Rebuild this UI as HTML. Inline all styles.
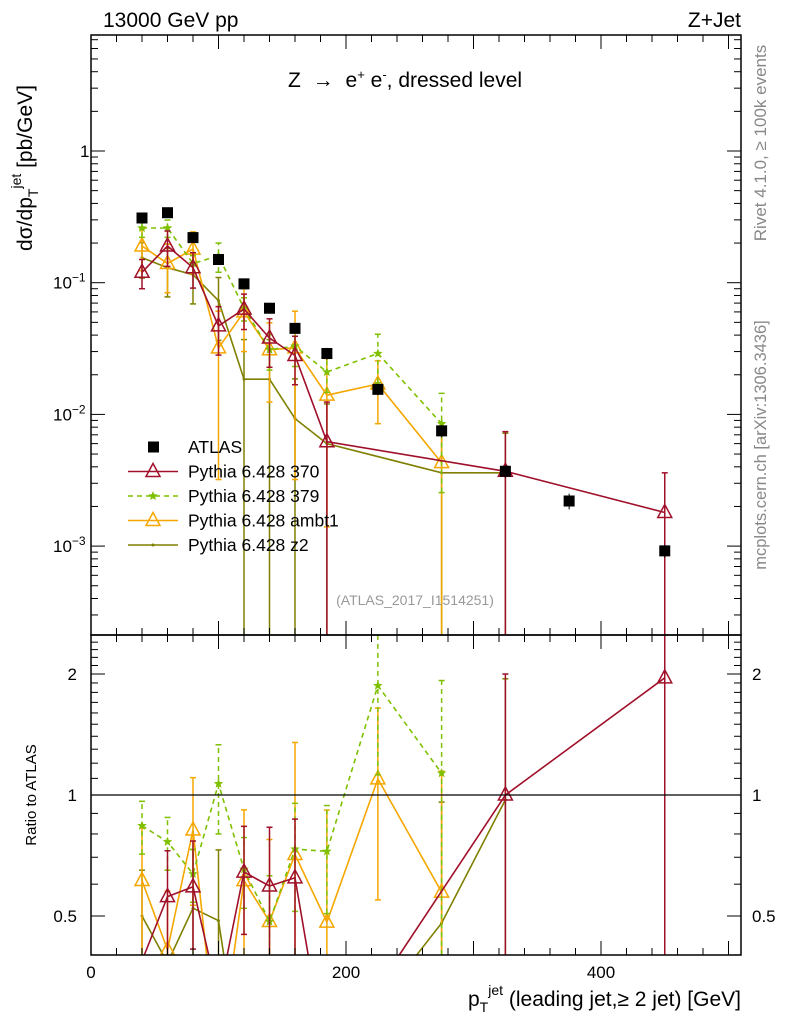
<!DOCTYPE html>
<html><head><meta charset="utf-8"><style>
html,body{margin:0;background:#fff;overflow:hidden;width:786px;height:1024px;}
svg{font-family:"Liberation Sans",sans-serif;display:block;}
</style></head><body>
<svg id="c" width="786" height="1024" viewBox="0 0 786 1024"></svg>
<script>
const xs=[40,60,80,100,120,140,160,185,225,275,325,375,450];
const atlas=[0.31,0.34,0.22,0.15,0.098,0.064,0.045,0.029,0.0155,0.0075,0.0037,0.0022,0.00092];
const atlasErr=[0.03,0.03,0.02,0.012,0.008,0.005,0.004,0.003,0.0015,0.0008,0.0004,0.0003,0.0001];
const s370=[0.12,0.19,0.13,0.047,0.063,0.038,0.028,0.0062,null,null,0.0037,null,0.0018];
const e370=[0.25,0.3,0.3,0.4,0.3,0.4,0.4,1.0,0,0,1.0,0,1.0];
const s379=[0.26,0.26,0.14,0.16,0.064,0.031,0.033,0.021,0.029,0.0085,null,null,null];
const e379=[0.15,0.15,0.15,0.25,0.2,0.3,0.3,0.3,0.4,0.7,0,0,0];
const sAmbt1=[0.19,0.14,0.18,0.032,0.06,0.031,0.032,0.014,0.017,0.0043,null,null,null];
const eAmbt1=[0.35,0.4,0.35,0.9,0.5,0.6,0.9,0.9,0.5,1.0,0,0,0];
const sZ2=[0.155,0.13,0.115,0.073,0.0185,0.0185,0.0093,0.006,null,0.0036,0.0036,null,null];
const eZ2=[0.3,0.4,0.4,0.5,1.0,1.0,1.0,1.0,0,1.0,1.0,0,0];
const xTicks=[0,200,400];
const ratioTicks=[0.5,1,2];

const svg=document.getElementById('c');
const NS='http://www.w3.org/2000/svg';
function mk(t,a,p){const e=document.createElementNS(NS,t);for(const k in a)e.setAttribute(k,a[k]);(p||svg).appendChild(e);return e;}
const L=91,R=741,T=35,MB=635,RB=955;
const X=v=>L+v*1.275;
const Y=v=>151-131.7*Math.log10(v);
const YR=v=>795-121*Math.log2(v);
const defs=mk('defs',{});
const c1=mk('clipPath',{id:'cm'},defs);mk('rect',{x:L,y:T,width:R-L,height:MB-T},c1);
const c2=mk('clipPath',{id:'cr'},defs);mk('rect',{x:L,y:MB,width:R-L,height:RB-MB},c2);
const gm=mk('g',{'clip-path':'url(#cm)'});
const gr=mk('g',{'clip-path':'url(#cr)'});
let f=mk('rect',{x:L,y:T,width:R-L,height:MB-T,fill:'none',stroke:'#000','stroke-width':1.5});

f=mk('rect',{x:L,y:MB,width:R-L,height:RB-MB,fill:'none',stroke:'#000','stroke-width':1.5});

for(let d=-4;d<=0;d++){for(let m=1;m<10;m++){const v=m*Math.pow(10,d);const y=Y(v);if(y<T||y>MB)continue;const len=m==1?14:7;
mk('line',{x1:L,x2:L+len,y1:y,y2:y,stroke:'#000'});mk('line',{x1:R,x2:R-len,y1:y,y2:y,stroke:'#000'});}}
const ylabs=[[1,'1'],[0.1,'10<tspan dy="-7" font-size="12">−1</tspan>'],[0.01,'10<tspan dy="-7" font-size="12">−2</tspan>'],[0.001,'10<tspan dy="-7" font-size="12">−3</tspan>']];
ylabs.forEach(([v,s])=>{const t=mk('text',{x:v==1?80:53,y:Y(v)+6,'font-size':17});t.innerHTML=s;});
for(let v=0.4;v<=2.5;v+=0.1){const y=YR(v);const maj=Math.abs(v-0.5)<1e-6||Math.abs(v-1)<1e-6||Math.abs(v-2)<1e-6;const len=maj?14:7;
mk('line',{x1:L,x2:L+len,y1:y,y2:y,stroke:'#000'});mk('line',{x1:R,x2:R-len,y1:y,y2:y,stroke:'#000'});}
ratioTicks.forEach(v=>{let t=mk('text',{x:77,y:YR(v)+6,'font-size':17,'text-anchor':'end'});t.textContent=v;
t=mk('text',{x:752,y:YR(v)+6,'font-size':17});t.textContent=v;});
for(let v=0;v<=500;v+=20){const x=X(v);const maj=v%100==0;const len=maj?14:7;
[[MB,-1],[RB,-1],[T,1],[MB,1]].forEach(([y0,s])=>mk('line',{x1:x,x2:x,y1:y0,y2:y0+s*len,stroke:'#000'}));}
xTicks.forEach(v=>{const t=mk('text',{x:X(v),y:978,'font-size':17,'text-anchor':'middle'});t.textContent=v;});
mk('line',{x1:L,x2:R,y1:YR(1),y2:YR(1),stroke:'#000','stroke-width':1.2});
function tri(g,x,y,col){mk('path',{d:`M${x} ${y-8}L${x+7} ${y+5}L${x-7} ${y+5}Z`,fill:'none',stroke:col,'stroke-width':1.5},g);}
function star(g,x,y,col){let d='';for(let i=0;i<10;i++){const r=i%2?2.2:5;const a=-Math.PI/2+i*Math.PI/5;d+=(i?'L':'M')+(x+r*Math.cos(a)).toFixed(1)+' '+(y+r*Math.sin(a)).toFixed(1);}mk('path',{d:d+'Z',fill:col},g);}
// clip a polyline to y<=bot; returns path d
function clipPath(pts,bot){let d='';let pen=false;
  for(let i=0;i<pts.length-1;i++){const [x1,y1]=pts[i],[x2,y2]=pts[i+1];
    if(y1>bot&&y2>bot){pen=false;continue;}
    let ax=x1,ay=y1,bx=x2,by=y2;
    if(y1>bot){const t=(bot-y1)/(y2-y1);ax=x1+t*(x2-x1);ay=bot;pen=false;}
    if(y2>bot){const t=(bot-y1)/(y2-y1);bx=x1+t*(x2-x1);by=bot;}
    if(!pen){d+=`M${ax.toFixed(1)} ${ay.toFixed(1)}`;}
    d+=`L${bx.toFixed(1)} ${by.toFixed(1)}`;pen=y2<=bot;}
  return d;}
function draw(vals,errs,col,dash,marker,name){
  [[gm,Y,v=>v,MB,T],[gr,YR,(v,i)=>v/atlas[i],RB,MB]].forEach(([g0,Yf,tf,bot,top],k)=>{
    const g=mk('g',{},g0);
    
    
    let pts=[];
    vals.forEach((v,i)=>{if(v==null)return;const val=tf(v,i);const x=X(xs[i]);const y=Yf(val);pts.push([x,y]);
      if(y>bot)return;
      const lo=val*(1-errs[i]),hi=val*(1+errs[i]);const ylo=lo>0?Math.min(Yf(lo),bot):bot,yhi=Math.max(Yf(hi),top);
      mk('line',{x1:x,x2:x,y1:ylo,y2:yhi,stroke:col,'stroke-width':1.5,'stroke-dasharray':dash},g);
      mk('line',{x1:x-3,x2:x+3,y1:yhi,y2:yhi,stroke:col,'stroke-width':1.5},g);
      if(lo>0&&Yf(lo)<bot)mk('line',{x1:x-3,x2:x+3,y1:ylo,y2:ylo,stroke:col,'stroke-width':1.5},g);});
    mk('path',{d:clipPath(pts,bot),fill:'none',stroke:col,'stroke-width':1.6,'stroke-dasharray':dash},g);
    vals.forEach((v,i)=>{if(v==null)return;const x=X(xs[i]),y=Yf(tf(v,i));if(y>bot)return;
      if(marker=='tri')tri(g,x,y,col);else if(marker=='star')star(g,x,y,col);else mk('circle',{cx:x,cy:y,r:1.5,fill:col},g);});
  });
}
draw(sZ2,eZ2,'#808000','','dot','pythia-z2');
draw(sAmbt1,eAmbt1,'#f5a700','','tri','pythia-ambt1');
draw(s379,e379,'#7fc000','5,4','star','pythia-379');
draw(s370,e370,'#a0102a','','tri','pythia-370');
const ga=mk('g',{},gm);
xs.forEach((x0,i)=>{const x=X(x0),y=Y(atlas[i]);mk('rect',{x:x-5.5,y:y-5.5,width:11,height:11,fill:'#000'},ga);
 mk('line',{x1:x,x2:x,y1:Y(atlas[i]-atlasErr[i]),y2:Y(atlas[i]+atlasErr[i]),stroke:'#000'},ga);});
const lg=mk('g',{});
const leg=[['ATLAS','#000','sq',''],['Pythia 6.428 370','#a0102a','tri',''],['Pythia 6.428 379','#7fc000','star','5,4'],['Pythia 6.428 ambt1','#f5a700','tri',''],['Pythia 6.428 z2','#808000','dot','']];
leg.forEach(([s,c,m,d],i)=>{const y=447+i*24.5;const e=mk('g',{},lg);
 if(m=='sq')mk('rect',{x:148,y:y-5.5,width:11,height:11,fill:'#000'},e);
 else{mk('line',{x1:128,x2:178,y1:y,y2:y,stroke:c,'stroke-width':1.6,'stroke-dasharray':d},e);
  if(m=='tri')tri(e,153,y,c);else if(m=='star')star(e,153,y,c);else mk('circle',{cx:153,cy:y,r:1.5,fill:c},e);}
 const t=mk('text',{x:188,y:y+6,'font-size':17.5},e);t.textContent=s;});
function txt(s,a,name){const t=mk('text',a);t.innerHTML=s;return t;}
txt('13000 GeV pp',{x:103,y:27,'font-size':21},'beam-label');
txt('Z+Jet',{x:741,y:27,'font-size':21,'text-anchor':'end'},'process-label');
txt('Z <tspan dx="6">→</tspan> <tspan dx="6">e</tspan><tspan dy="-8" font-size="13">+</tspan><tspan dy="8"> e</tspan><tspan dy="-8" font-size="13">-</tspan><tspan dy="8">, dressed level</tspan>',{x:288,y:87,'font-size':21},'plot-title');
txt('(ATLAS_2017_I1514251)',{x:415,y:605,'font-size':14,fill:'#999','text-anchor':'middle'},'analysis-id');
txt('dσ/dp<tspan dy="6" font-size="14">T</tspan><tspan dy="-17" font-size="14">jet</tspan><tspan dy="11"> [pb/GeV]</tspan>',{transform:'translate(32,168) rotate(-90)','font-size':21,'text-anchor':'middle'},'y-axis-title');
txt('Ratio to ATLAS',{transform:'translate(36,795) rotate(-90)','font-size':15,'text-anchor':'middle'},'ratio-axis-title');
txt('p<tspan dy="6" font-size="14">T</tspan><tspan dy="-17" font-size="14">jet</tspan><tspan dy="11"> (leading jet,≥ 2 jet) [GeV]</tspan>',{x:741,y:1006,'font-size':21,'text-anchor':'end'},'x-axis-title');
txt('Rivet 4.1.0, ≥ 100k events',{transform:'translate(766,143) rotate(-90)','font-size':17,fill:'#888','text-anchor':'middle'},'rivet-label');
txt('mcplots.cern.ch [arXiv:1306.3436]',{transform:'translate(766,445) rotate(-90)','font-size':16.5,fill:'#888','text-anchor':'middle'},'mcplots-label');
</script>
</body></html>
